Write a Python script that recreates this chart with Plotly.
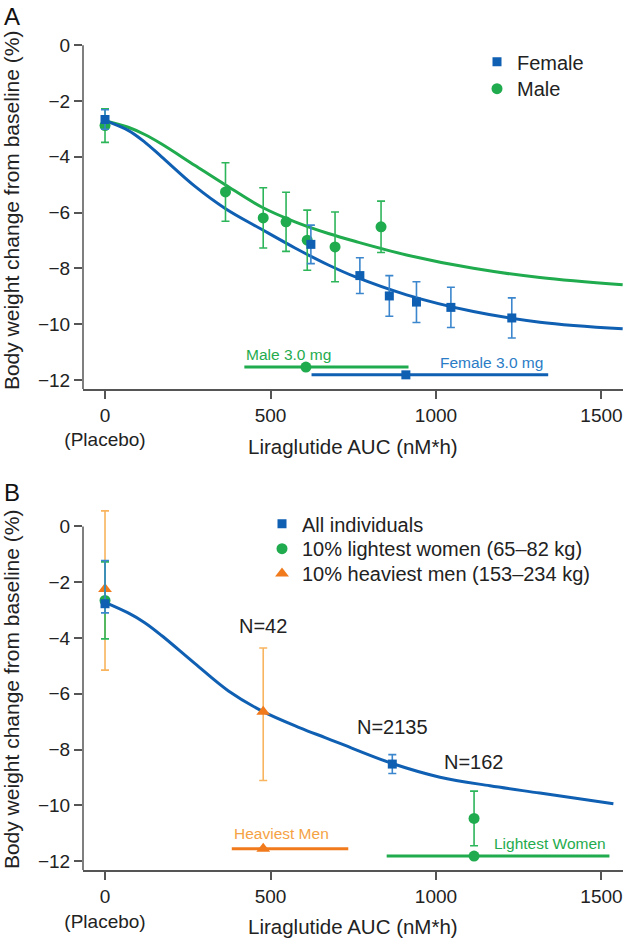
import plotly.graph_objects as go

# ---------------- DATA ----------------
# Panel A: observed means with error bars
female_x = [0, 622, 770, 859, 941, 1045, 1229]
female_y = [-2.66, -7.14, -8.26, -8.99, -9.21, -9.40, -9.78]
female_err = [0.35, 0.69, 0.64, 0.73, 0.73, 0.72, 0.72]

male_x = [0, 364, 478, 547, 611, 695, 834]
male_y = [-2.88, -5.26, -6.19, -6.33, -6.99, -7.23, -6.51]
male_err = [0.60, 1.05, 1.08, 1.06, 1.08, 1.25, 0.92]

# Panel A: model curves
curveA_x = [0, 70, 120, 171, 272, 363, 473, 574, 675, 755, 911, 1113, 1314, 1564]
female_curve = [-2.70, -3.05, -3.47, -4.00, -5.06, -5.85, -6.60, -7.27, -7.88, -8.30, -8.95, -9.55, -9.93, -10.17]
male_curve = [-2.70, -2.94, -3.20, -3.54, -4.31, -5.00, -5.80, -6.33, -6.75, -7.03, -7.52, -8.00, -8.33, -8.59]

# Panel A: exposure ranges at 3.0 mg (start, median, end) and level
male_range = [421, 607, 917]
male_range_y = -11.54
female_range = [624, 909, 1339]
female_range_y = -11.82

# Panel B: observed means with error bars
all_x = [0, 868]
all_y = [-2.77, -8.52]
all_err_plus = [1.55, 0.34]
all_err_minus = [0.33, 0.34]

light_x = [0, 1115]
light_y = [-2.65, -10.47]
light_err = [1.38, 0.98]

heavy_x = [0, 478]
heavy_y = [-2.24, -6.64]
heavy_err_plus = [2.80, 2.28]
heavy_err_minus = [2.91, 2.47]

# Panel B: model curve
curveB_x = [0, 70, 120, 171, 272, 373, 478, 589, 665, 710, 868, 1012, 1163, 1314, 1536]
all_curve = [-2.72, -3.10, -3.45, -3.91, -4.92, -5.90, -6.64, -7.22, -7.57, -7.78, -8.50, -8.99, -9.30, -9.56, -9.94]

# Panel B: exposure ranges
heavy_range = [383, 478, 735]
heavy_range_y = -11.56
light_range = [851, 1115, 1524]
light_range_y = -11.82

# N labels
n_labels = ["N=42", "N=2135", "N=162"]
n_label_x = [476, 868, 1116]
n_label_y = [-3.57, -7.20, -8.45]

# Axis ticks
x_tickvals = [0, 500, 1000, 1500]
x_ticktext = ["0<br>(Placebo)", "500", "1000", "1500"]
y_tickvals = [0, -2, -4, -6, -8, -10, -12]
y_ticktext = ["0", "\u22122", "\u22124", "\u22126", "\u22128", "\u221210", "\u221212"]

# ---------------- STYLE ----------------
W, H = 626, 945
FONT = "Liberation Sans, Arial, sans-serif"
TXT = "#222222"
AX = "#555555"
BLUE = "#0f5fb3"
BLUE_ERR = "#3b86cc"
BLUE_TXT = "#2a7cc6"
GREEN = "#1fab4e"
GREEN_ERR = "#2db55a"
ORANGE = "#f07a1c"
ORANGE_ERR = "#f8b45e"
ORANGE_TXT = "#f5a245"

ML, MR = 83, 3
XR = [-66.5, 1565]
YA = [-12.33, 0.25]
YB = [-12.33, 0.9]


def py(p):
    return 1 - p / H


def px(p):
    return (p - ML) / (W - ML - MR)


fig = go.Figure()


def err_trace(x, y, plus, minus, color, ecolor, symbol, size, name, xa, ya, legend):
    fig.add_trace(go.Scatter(
        x=x, y=y, mode="markers", name=name, xaxis=xa, yaxis=ya,
        marker=dict(symbol=symbol, size=size, color=color),
        error_y=dict(type="data", symmetric=False, array=plus, arrayminus=minus,
                     color=ecolor, thickness=1.6, width=4),
        showlegend=True, legend=legend, cliponaxis=False))


def line_trace(x, y, color, xa, ya, width=3):
    fig.add_trace(go.Scatter(x=x, y=y, mode="lines",
                             line=dict(color=color, width=width, shape="spline", smoothing=1.0),
                             xaxis=xa, yaxis=ya, showlegend=False, hoverinfo="skip"))


def range_trace(r, yv, color, symbol, size, xa, ya):
    fig.add_trace(go.Scatter(x=[r[0], r[2]], y=[yv, yv], mode="lines", line=dict(color=color, width=3),
                             xaxis=xa, yaxis=ya, showlegend=False))
    fig.add_trace(go.Scatter(x=[r[1]], y=[yv], mode="markers", marker=dict(symbol=symbol, size=size, color=color),
                             xaxis=xa, yaxis=ya, showlegend=False, cliponaxis=False))


# Panel A
line_trace(curveA_x, male_curve, GREEN, "x", "y")
line_trace(curveA_x, female_curve, BLUE, "x", "y")
range_trace(male_range, male_range_y, GREEN, "circle", 11, "x", "y")
range_trace(female_range, female_range_y, BLUE, "square", 9, "x", "y")
err_trace(male_x, male_y, male_err, male_err, GREEN, GREEN_ERR, "circle", 11, "Male", "x", "y", "legend2")
err_trace(female_x, female_y, female_err, female_err, BLUE, BLUE_ERR, "square", 9, "Female", "x", "y", "legend")

# Panel B
line_trace(curveB_x, all_curve, BLUE, "x2", "y2")
range_trace(heavy_range, heavy_range_y, ORANGE, "triangle-up", 12, "x2", "y2")
range_trace(light_range, light_range_y, GREEN, "circle", 11, "x2", "y2")
err_trace(heavy_x, heavy_y, heavy_err_plus, heavy_err_minus, ORANGE, ORANGE_ERR, "triangle-up", 12,
          "10% heaviest men (153\u2013234 kg)", "x2", "y2", "legend5")
err_trace(light_x, light_y, light_err, light_err, GREEN, GREEN_ERR, "circle", 11,
          "10% lightest women (65\u201382 kg)", "x2", "y2", "legend4")
err_trace(all_x, all_y, all_err_plus, all_err_minus, BLUE, BLUE_ERR, "square", 9,
          "All individuals", "x2", "y2", "legend3")

xcommon = dict(range=XR, tickvals=x_tickvals, ticktext=x_ticktext, ticks="outside", ticklen=8,
               tickwidth=1.5, tickcolor=AX, showline=True, linecolor=AX, linewidth=1.5,
               showgrid=False, zeroline=False, tickfont=dict(size=19, color=TXT, family=FONT))
ycommon = dict(tickvals=y_tickvals, ticktext=y_ticktext, ticks="outside", ticklen=8,
               tickwidth=1.5, tickcolor=AX, showline=False, showgrid=False, zeroline=False,
               tickfont=dict(size=19, color=TXT, family=FONT))


def leg(xp, yp):
    return dict(x=px(xp), y=py(yp), xanchor="left", yanchor="middle", bgcolor="rgba(0,0,0,0)",
                font=dict(size=20, color=TXT, family=FONT), itemwidth=30)


fig.update_layout(
    width=W, height=H, margin=dict(l=ML, r=MR, t=0, b=0),
    paper_bgcolor="white", plot_bgcolor="white",
    font=dict(family=FONT, color=TXT, size=19),
    xaxis=dict(domain=[0, 1], anchor="y", **xcommon),
    yaxis=dict(domain=[py(387.7), py(35.5)], range=YA, anchor="x", **ycommon),
    xaxis2=dict(domain=[0, 1], anchor="y2", **xcommon),
    yaxis2=dict(domain=[py(871), py(500.5)], range=YB, anchor="x2", **ycommon),
    legend=leg(477, 59),
    legend2=leg(477, 86),
    legend3=leg(262, 523),
    legend4=leg(262, 548),
    legend5=leg(262, 573),
    showlegend=True,
)

# y spines ending at 0
for yref, xref in (("y", "x"), ("y2", "x2")):
    fig.add_shape(type="line", xref=f"{xref} domain", yref=yref, x0=0, x1=0, y0=-12.33, y1=0,
                  line=dict(color=AX, width=1.5), layer="above")

ann = []
# axis titles
for cy in (445, 927):
    ann.append(dict(text="Liraglutide AUC (nM*h)", xref="paper", yref="paper", x=0.5, y=py(cy),
                    showarrow=False, font=dict(size=20.5, color=TXT), xanchor="center", yanchor="middle"))
for cy in (208, 689):
    ann.append(dict(text="Body weight change from baseline (%)", xref="paper", yref="paper",
                    x=px(11), y=py(cy), textangle=-90, showarrow=False,
                    font=dict(size=21, color=TXT), xanchor="center", yanchor="middle"))
# panel letters
ann.append(dict(text="A", xref="paper", yref="paper", x=px(12), y=py(14), showarrow=False,
                font=dict(size=24, color="#111"), xanchor="center", yanchor="middle"))
ann.append(dict(text="B", xref="paper", yref="paper", x=px(12), y=py(492), showarrow=False,
                font=dict(size=24, color="#111"), xanchor="center", yanchor="middle"))
# range labels
ann.append(dict(text="Male 3.0 mg", xref="x", yref="y", x=male_range[0], y=-11.09, showarrow=False,
                xanchor="left", yanchor="middle", font=dict(size=15.5, color=GREEN)))
ann.append(dict(text="Female 3.0 mg", xref="x", yref="y", x=1007, y=-11.39, showarrow=False,
                xanchor="left", yanchor="middle", font=dict(size=15.5, color=BLUE_TXT)))
ann.append(dict(text="Heaviest Men", xref="x2", yref="y2", x=heavy_range[0], y=-11.02, showarrow=False,
                xanchor="left", yanchor="middle", font=dict(size=15.5, color=ORANGE_TXT)))
ann.append(dict(text="Lightest Women", xref="x2", yref="y2", x=1520, y=-11.37, showarrow=False,
                xanchor="right", yanchor="middle", font=dict(size=15.5, color=GREEN)))
for t, xv, yv in zip(n_labels, n_label_x, n_label_y):
    ann.append(dict(text=t, xref="x2", yref="y2", x=xv, y=yv, showarrow=False,
                    xanchor="center", yanchor="middle", font=dict(size=20, color=TXT)))
fig.update_layout(annotations=ann)

# the page body has a default 8px margin; remove it so the figure fills the window exactly
fig.write_html("out.html", config={"displayModeBar": False},
               post_script="document.body.style.margin='0px';")
